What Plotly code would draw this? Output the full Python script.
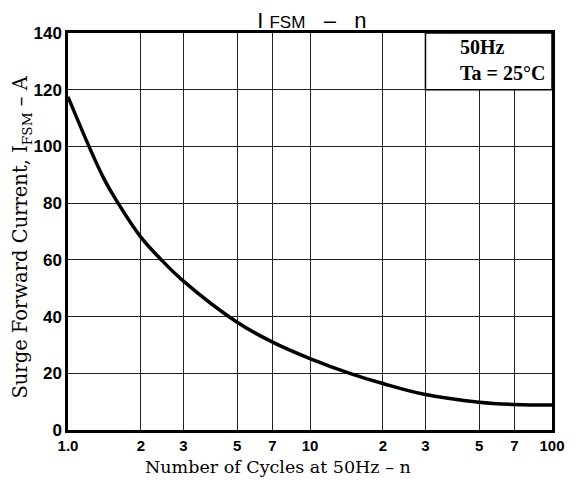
import plotly.graph_objects as go

# Data
cycles = [1, 1.4, 1.61, 2, 2.4, 3, 5, 7, 10, 14.6, 20, 30, 50, 70, 100]
ifsm = [117.5, 89, 80, 68, 60.5, 52.5, 38, 31, 25.2, 20, 16.4, 12.5, 9.8, 9.0, 8.8]

x_tickvals = [1, 2, 3, 5, 7, 10, 20, 30, 50, 70, 100]
x_ticktext = ["1.0", "2", "3", "5", "7", "10", "2", "3", "5", "7", "100"]
y_tickvals = [0, 20, 40, 60, 80, 100, 120, 140]
y_ticktext = ["0", "20", "40", "60", "80", "100", "120", "140"]

fig = go.Figure()
fig.add_trace(go.Scatter(x=cycles, y=ifsm, mode="lines",
                         line=dict(color="black", width=3.5, shape="spline", smoothing=1.1),
                         hoverinfo="skip", showlegend=False))

# white box for the condition label (covers gridlines above 120 between 30 and 100)
fig.add_shape(type="rect", xref="x", yref="y", x0=30, x1=100, y0=120, y1=140,
              fillcolor="white", line=dict(color="black", width=1.5), layer="between")

fig.add_annotation(xref="paper", yref="paper", x=0.99, y=0.997, xanchor="right", yanchor="top",
                   text="<b>50Hz<br>Ta = 25°C</b>", align="left", showarrow=False,
                   font=dict(family="Liberation Serif", size=20, color="black"))

serif = "DejaVu Serif"
# axis titles
fig.add_annotation(xref="paper", yref="paper", x=0.434, y=-0.093, xanchor="center", yanchor="middle",
                   text="Number of Cycles at 50Hz – n", showarrow=False,
                   font=dict(family=serif, size=17.5, color="black"))
fig.add_annotation(xref="paper", yref="paper", x=-0.096, y=0.486, xanchor="center", yanchor="middle",
                   text="Surge Forward Current, I<sub>FSM</sub> – A", showarrow=False, textangle=-90,
                   font=dict(family=serif, size=19.5, color="black"))

fig.update_layout(
    width=568, height=474,
    margin=dict(l=60, r=24, t=25, b=52),
    paper_bgcolor="white", plot_bgcolor="white",
    title=dict(text="I <span style='font-size:17px'>FSM</span>   –   n", x=0.535, xanchor="center",
               y=0.99, yanchor="top",
               font=dict(family="Liberation Sans", size=22, color="black")),
    xaxis=dict(type="log", range=[0, 2], tickvals=x_tickvals, ticktext=x_ticktext,
               showgrid=True, gridcolor="#222", gridwidth=1.3,
               showline=True, linecolor="black", linewidth=2.5, mirror=True,
               ticks="", zeroline=False, automargin=False,
               tickfont=dict(family="Liberation Sans", size=15, color="black", weight="bold")),
    yaxis=dict(range=[0, 140], tickvals=y_tickvals, ticktext=y_ticktext,
               showgrid=True, gridcolor="#222", gridwidth=1.3,
               showline=True, linecolor="black", linewidth=2.5, mirror=True,
               ticks="", zeroline=False, automargin=False,
               tickfont=dict(family="Liberation Sans", size=17, color="black", weight="bold")),
)

fig.write_html("out.html")
